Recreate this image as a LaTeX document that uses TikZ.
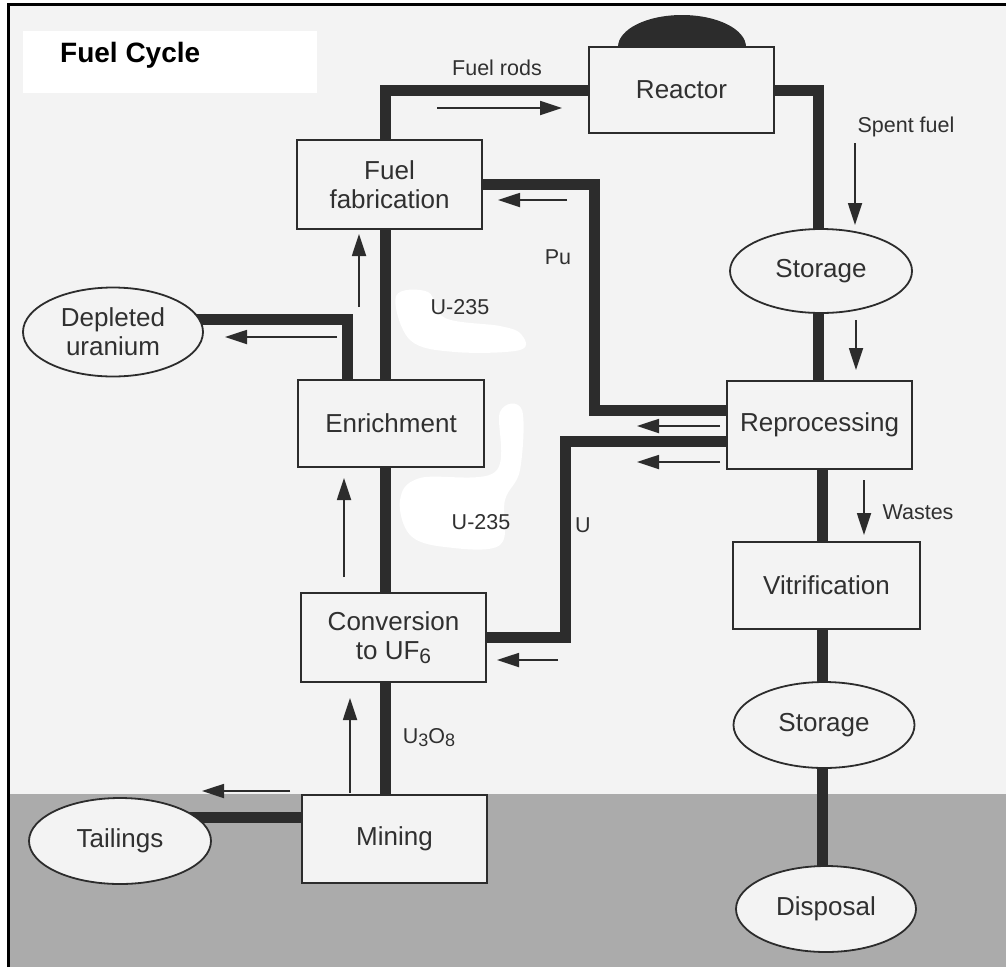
\documentclass[tikz,border=0pt]{standalone}
\usepackage{fontspec}
\setmainfont{Liberation Sans}
\usetikzlibrary{shapes.geometric,arrows.meta}
\pgfdeclarelayer{back}
\pgfdeclarelayer{bg}
\pgfsetlayers{back,bg,main}
\definecolor{paper}{HTML}{F3F3F3}
\definecolor{ground}{HTML}{ABABAB}
\definecolor{ink}{HTML}{2C2C2C}
\definecolor{txt}{HTML}{303030}
\begin{document}
\begin{tikzpicture}[x=1pt,y=-1pt,
  box/.style={draw=ink, line width=1.8pt, fill=paper, rectangle, inner sep=0pt, text=txt, font=\fontsize{26}{29}\selectfont, align=center},
  oval/.style={draw=ink, line width=1.8pt, fill=paper, ellipse, inner sep=0pt, text=txt, font=\fontsize{26}{29}\selectfont, align=center},
  pipe/.style={draw=ink, line width=11pt, line join=miter},
  flow/.style={draw=ink, line width=1.8pt, -{Triangle[length=22pt,width=14pt]}},
  lbl/.style={text=txt, font=\fontsize{21.5}{24}\selectfont, inner sep=0pt},
]
\useasboundingbox (0,0) rectangle (1006,967);

% ---------- background ----------
\begin{pgfonlayer}{back}
  \fill[white] (0,0) rectangle (1006,967);
  \fill[paper] (8,4.5) rectangle (1006,967);
  \fill[ground] (8,794) rectangle (1006,967);
  \fill[white] (23,31) rectangle (317,93);
  \fill[white] plot[smooth cycle, tension=0.6] coordinates {(396,296) (428,292) (445,318) (500,326) (521,334) (520,350) (455,352) (410,340)};
  \fill[white] plot[smooth cycle, tension=0.6] coordinates {(500,412) (522,410) (520,470) (505,500) (500,545) (445,547) (410,535) (400,500) (420,478) (495,472)};
  \draw[black, line width=3pt] (8,967) -- (8,4.5) -- (1006,4.5);
\end{pgfonlayer}

% ---------- title ----------
\node[font=\bfseries\fontsize{28}{30}\selectfont, text=black, anchor=west, inner sep=0pt] (title) at (60,55) {Fuel Cycle};

% ---------- process nodes ----------
\node[box, minimum width=185pt, minimum height=86pt] (reactor) at (681.5,90) {Reactor};
\node[box, minimum width=185pt, minimum height=89pt] (fab) at (389.5,184.5) {Fuel\\fabrication};
\node[box, minimum width=186pt, minimum height=87pt] (enr) at (391,423.5) {Enrichment};
\node[box, minimum width=185pt, minimum height=89pt] (conv) at (393.5,637.5) {Conversion\\to UF\raisebox{-4pt}{\fontsize{21}{21}\selectfont 6}};
\node[box, minimum width=185pt, minimum height=88pt] (mining) at (394.5,839) {Mining};
\node[box, minimum width=185pt, minimum height=88pt] (rep) at (819.5,425) {Reprocessing};
\node[box, minimum width=187pt, minimum height=87pt] (vit) at (826.5,585.5) {Vitrification};

\node[oval, minimum width=182pt, minimum height=84pt] (st1) at (821,271) {Storage};
\node[oval, minimum width=181pt, minimum height=86pt] (st2) at (824,725) {Storage};
\node[oval, minimum width=180pt, minimum height=86pt] (disp) at (826,909) {Disposal};
\node[oval, minimum width=180pt, minimum height=89pt] (dep) at (113,332) {Depleted\\uranium};
\node[oval, minimum width=182pt, minimum height=86pt] (tail) at (120,841) {Tailings};

% ---------- labels ----------
\node[lbl] (lrods) at (497,68) {Fuel rods};
\node[lbl] (lspent) at (906,127) {Spent fuel};
\node[lbl] (lpu) at (558,257) {Pu};
\node[lbl] (lu1) at (460,307) {U-235};
\node[lbl] (lu2) at (481,522) {U-235};
\node[lbl] (lu) at (583,525) {U};
\node[lbl] (lwaste) at (918,512) {Wastes};
\node[lbl] (lu3o8) at (429,738) {U\raisebox{-3pt}{\fontsize{18}{18}\selectfont 3}O\raisebox{-3pt}{\fontsize{18}{18}\selectfont 8}};

% ---------- pipe guide coordinates ----------
\coordinate (sx) at (385,0);
\coordinate (rx1) at (818,0);
\coordinate (rx2) at (822,0);
\coordinate (puy) at (0,410);
\coordinate (pux) at (594,0);
\coordinate (uy) at (0,441);
\coordinate (ux) at (565,0);
\coordinate (dx) at (347,0);
\coordinate (dy) at (0,319);
\coordinate (ty) at (0,817);

% ---------- thick pipes (behind nodes) ----------
\begin{pgfonlayer}{bg}
  \fill[ink] (618,47) arc[start angle=180, end angle=360, x radius=64, y radius=32] -- cycle;
  \draw[pipe] (sx |- mining.center) |- (reactor.center);
  \draw[pipe] (reactor.center) -| (rx1 |- st1.center);
  \draw[pipe] (rx1 |- st1.center) -- (rx1 |- rep.center);
  \draw[pipe] (rx2 |- rep.center) -- (rx2 |- disp.center);
  \draw[pipe] (rep.center |- puy) -| (pux |- fab.center) -- (fab.center);
  \draw[pipe] (rep.center |- uy) -| (ux |- conv.center) -- (conv.center);
  \draw[pipe] (dx |- enr.center) |- (dep.center |- dy);
  \draw[pipe] (mining.center |- ty) -- (tail.center |- ty);
\end{pgfonlayer}

% ---------- thin flow arrows ----------
\coordinate (a1s) at (437,108);  \coordinate (a1e) at (562,108);
\coordinate (a2s) at (855,143);  \coordinate (a2e) at (855,225);
\coordinate (a3s) at (567,200);  \coordinate (a3e) at (498,200);
\coordinate (a4s) at (856,320);  \coordinate (a4e) at (856,370);
\coordinate (a5s) at (720,426);  \coordinate (a5e) at (637,426);
\coordinate (a6s) at (720,462);  \coordinate (a6e) at (637,462);
\coordinate (a7s) at (864,480);  \coordinate (a7e) at (864,535);
\coordinate (a8s) at (558,660);  \coordinate (a8e) at (497,660);
\coordinate (a9s) at (344,577);  \coordinate (a9e) at (344,478);
\coordinate (a10s) at (359,307); \coordinate (a10e) at (359,234);
\coordinate (a11s) at (337,337); \coordinate (a11e) at (225,337);
\coordinate (a12s) at (350,793); \coordinate (a12e) at (350,698);
\coordinate (a13s) at (290,791); \coordinate (a13e) at (202,791);
\draw[flow] (a1s) -- (a1e);
\draw[flow] (a2s) -- (a2e);
\draw[flow] (a3s) -- (a3e);
\draw[flow] (a4s) -- (a4e);
\draw[flow] (a5s) -- (a5e);
\draw[flow] (a6s) -- (a6e);
\draw[flow] (a7s) -- (a7e);
\draw[flow] (a8s) -- (a8e);
\draw[flow] (a9s) -- (a9e);
\draw[flow] (a10s) -- (a10e);
\draw[flow] (a11s) -- (a11e);
\draw[flow] (a12s) -- (a12e);
\draw[flow] (a13s) -- (a13e);
\end{tikzpicture}
\end{document}
